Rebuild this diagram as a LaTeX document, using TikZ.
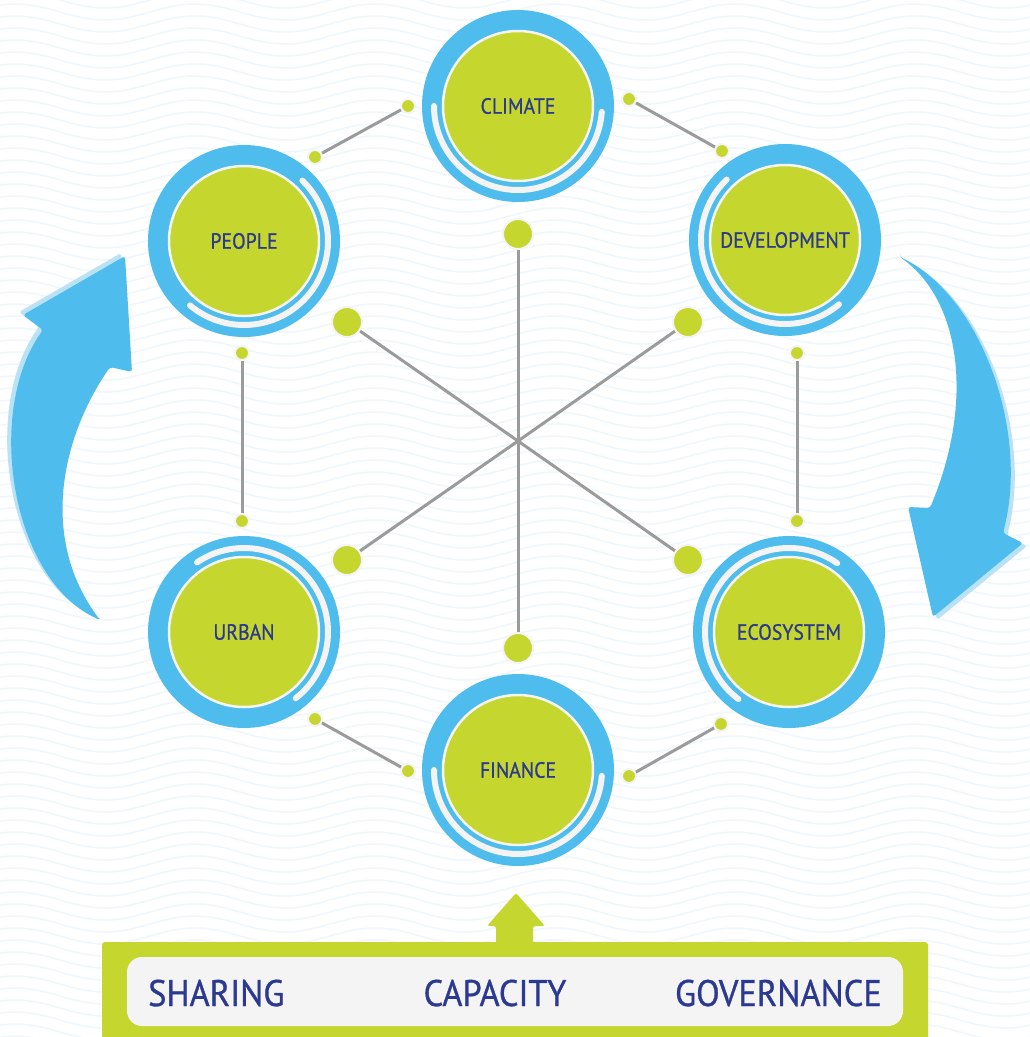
\documentclass[tikz,border=0pt]{standalone}
\usepackage{fontspec}
\newfontfamily\labfont[FakeStretch=0.9,FakeBold=0.7]{PT Sans}
\newfontfamily\barfont[FakeStretch=0.93,FakeBold=0.8]{PT Sans}
\definecolor{ringblue}{HTML}{4EBCEC}
\definecolor{limeg}{HTML}{C5D62E}
\definecolor{navy}{HTML}{2B3990}
\definecolor{linegray}{HTML}{9B9B9B}
\definecolor{offw}{HTML}{F4F4F4}
\definecolor{wavec}{HTML}{EFF7FC}
\definecolor{shadowb}{HTML}{B9E2F6}
\newcommand\ringnode[6]{%
  \coordinate (#1c) at (#2,#3);
  \fill[ringblue] (#1c) circle[radius=96];
  \draw[innerarc] ([shift={(#4:84)}]#1c) arc[start angle=#4,end angle=#5,radius=84];
  \node[hubnode] (#1) at (#1c) {#6};}
\begin{document}
\begin{tikzpicture}[x=1pt,y=-1pt,
  hubnode/.style={circle,fill=limeg,draw=offw,line width=2.5pt,minimum size=150pt,inner sep=0pt,text=navy,font=\labfont\fontsize{22}{24}\selectfont},
  bigdot/.style={circle,fill=limeg,draw=offw,line width=2pt,minimum size=30pt,inner sep=0pt},
  smalldot/.style={circle,fill=limeg,draw=offw,line width=2pt,minimum size=14pt,inner sep=0pt},
  link/.style={draw=linegray,line width=3pt},
  innerarc/.style={draw=offw,line width=6pt,line cap=round},
  bartext/.style={text=navy,font=\barfont\fontsize{37}{40}\selectfont,inner sep=0pt}]
\useasboundingbox (0,0) rectangle (1030,1037);
\fill[white] (0,0) rectangle (1030,1037);
% background waves
\begin{scope}
\clip (0,0) rectangle (1030,1037);
\foreach \r in {0,...,88} {
  \draw[wavec, line width=1.5pt] (-30,\r*12) \foreach \k in {1,...,7} { sin ++(45,-8) cos ++(45,8) sin ++(45,8) cos ++(45,-8) };
}
\end{scope}
% hub
\coordinate (hub) at (518,441);
\node[bigdot] (b1) at (518,234) {};
\node[bigdot] (b2) at (347,322) {};
\node[bigdot] (b3) at (688,322) {};
\node[bigdot] (b4) at (347,560) {};
\node[bigdot] (b5) at (688,560) {};
\node[bigdot] (b6) at (518,648) {};
\foreach \b in {b1,b2,b3,b4,b5,b6} { \draw[link] (\b) -- (hub); }
% edge dots
\node[smalldot] (s1a) at (408,106) {};
\node[smalldot] (s1b) at (315,157) {};
\node[smalldot] (s2a) at (629,99) {};
\node[smalldot] (s2b) at (722,151) {};
\node[smalldot] (s3a) at (242,353) {};
\node[smalldot] (s3b) at (242,521) {};
\node[smalldot] (s4a) at (797,353) {};
\node[smalldot] (s4b) at (797,521) {};
\node[smalldot] (s5a) at (315,719) {};
\node[smalldot] (s5b) at (408,771) {};
\node[smalldot] (s6a) at (721,724) {};
\node[smalldot] (s6b) at (629,776) {};
\foreach \e in {1,...,6} { \draw[link] (s\e a) -- (s\e b); }
% main circles
\ringnode{climate}{518}{106}{4}{180}{CLIMATE}
\ringnode{people}{244}{241}{-46}{130}{PEOPLE}
\ringnode{devel}{785}{240}{50}{226}{DEVELOPMENT}
\ringnode{urban}{244}{632}{-124}{52}{URBAN}
\ringnode{eco}{789}{632}{127}{305}{ECOSYSTEM}
\ringnode{finance}{518}{770}{4}{180}{FINANCE}
% curved arrows
\fill[shadowb, rounded corners=3pt, shift={(-4,-3)}] (100,620) .. controls (10,580) and (-15,410) .. (43,330) -- (23,315) -- (125,256) -- (132,372) -- (110,367) .. controls (60,440) and (40,540) .. (100,620) -- cycle;
\fill[ringblue, rounded corners=3pt] (100,620) .. controls (10,580) and (-15,410) .. (43,330) -- (23,315) -- (125,256) -- (132,372) -- (110,367) .. controls (60,440) and (40,540) .. (100,620) -- cycle;
\fill[shadowb, rounded corners=3pt, shift={(4,3)}] (900,257) .. controls (980,295) and (1030,430) .. (1003,533) -- (1023,543) -- (933,617) -- (908,507) -- (930,508) .. controls (975,400) and (960,300) .. (900,257) -- cycle;
\fill[ringblue, rounded corners=3pt] (900,257) .. controls (980,295) and (1030,430) .. (1003,533) -- (1023,543) -- (933,617) -- (908,507) -- (930,508) .. controls (975,400) and (960,300) .. (900,257) -- cycle;
% bottom bar
\fill[limeg, rounded corners=3pt] (102,942) rectangle (928,1045);
\fill[limeg, rounded corners=2.5pt] (496,950) -- (496,926) -- (487,926) -- (516,893) -- (545,926) -- (533,926) -- (533,950) -- cycle;
\fill[offw, rounded corners=15pt] (127,957) rectangle (903,1026);
\node[bartext, anchor=base west] (sharing) at (148,1006) {SHARING};
\node[bartext, anchor=base] (capacity) at (495,1006) {CAPACITY};
\node[bartext, anchor=base east] (governance) at (882,1006) {GOVERNANCE};
\end{tikzpicture}
\end{document}
